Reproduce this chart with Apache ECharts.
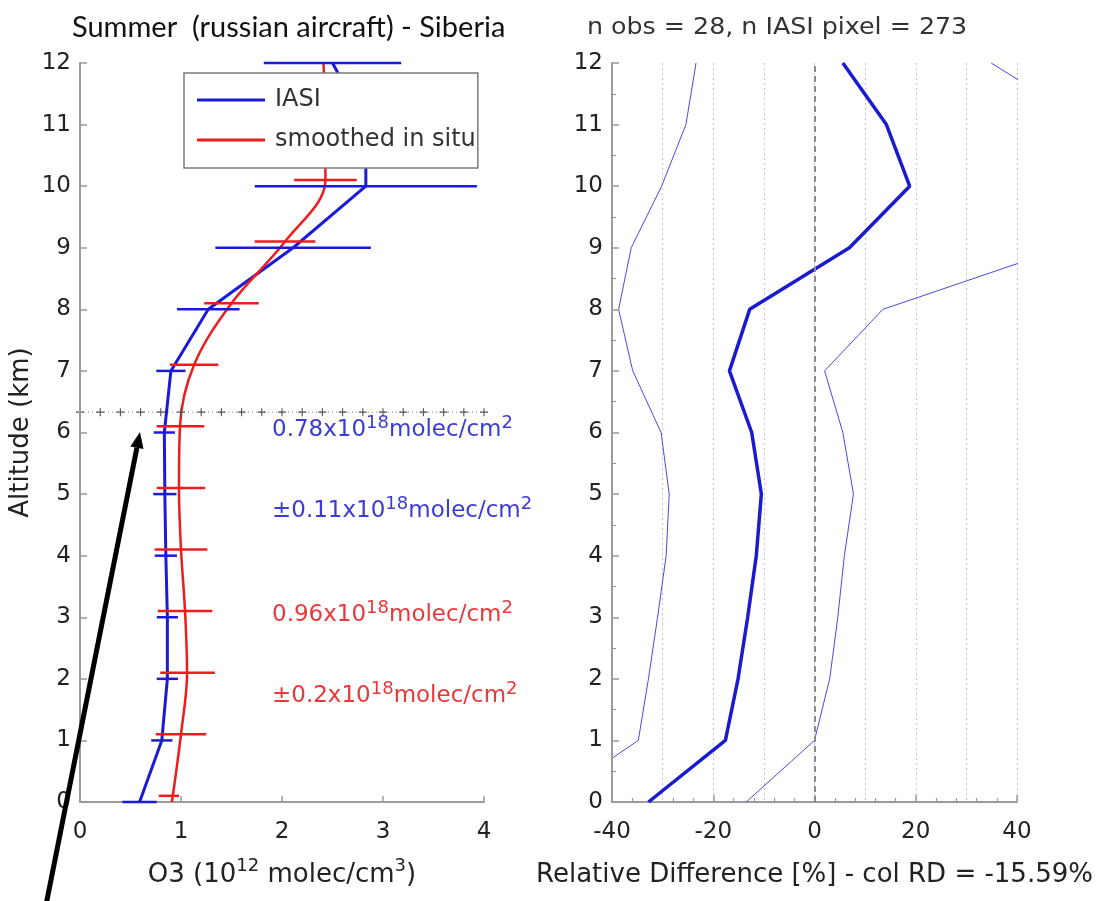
<!DOCTYPE html>
<html lang="en">
<head>
    <meta charset="UTF-8">
    <title>IASI vs in situ O3 - Siberia</title>
    <script src="https://cdn.jsdelivr.net/npm/echarts@6/dist/echarts.min.js"></script>
    <style>
        html, body { margin: 0; padding: 0; background: #fff; }
        #main { width: 1105px; height: 901px; }
    </style>
</head>
<body>
    <div id="main"></div>
    <script>
        // ---- data ----
        var altitudes = [0, 1, 2, 3, 4, 5, 6, 7, 8, 9, 10, 11, 12];

        // IASI profile (left panel), 10^12 molec/cm3
        var iasiO3 = [0.59, 0.81, 0.865, 0.865, 0.85, 0.84, 0.835, 0.9, 1.27, 2.11, 2.83, 2.83, 2.50];
        var iasiErr = [0.17, 0.105, 0.105, 0.105, 0.11, 0.115, 0.105, 0.145, 0.31, 0.77, 1.1, 0.75, 0.68];

        // smoothed in situ profile
        var insituAlt = [0, 1.1, 2.1, 3.1, 4.1, 5.1, 6.1, 7.1, 8.1, 9.1, 10.1, 11.1, 12];
        var insituO3 = [0.91, 1.0, 1.06, 1.04, 1.0, 0.98, 0.99, 1.13, 1.5, 2.03, 2.43, 2.43, 2.41];
        var insituBarAlt = [0.1, 1.1, 2.1, 3.1, 4.1, 5.1, 6.1, 7.1, 8.1, 9.1, 10.1, 11.1];
        var insituBarO3 = [0.88, 1.0, 1.065, 1.04, 1.0, 1.0, 0.995, 1.13, 1.5, 2.03, 2.43, 2.43];
        var insituErr = [0.1, 0.25, 0.27, 0.27, 0.26, 0.24, 0.235, 0.24, 0.27, 0.3, 0.31, 0.3];

        // tropopause marker row
        var tropoAlt = 6.33;
        var tropoX = [0, 0.2, 0.4, 0.6, 0.8, 1.0, 1.2, 1.4, 1.6, 1.8, 2.0, 2.2, 2.4, 2.6, 2.8, 3.0, 3.2, 3.4, 3.6, 3.8, 4.0];

        // relative difference (right panel), %
        var rdMean = [-32.8, -17.6, -15.1, -13.2, -11.5, -10.5, -12.4, -16.8, -12.8, 6.9, 18.8, 14.2, 5.6];
        var rdLow = [-52.7, -34.8, -32.8, -31.0, -29.3, -28.7, -30.3, -35.9, -38.7, -36.2, -30.2, -25.4, -23.4];
        var rdHigh = [-13.5, 0.0, 3.0, 4.6, 5.9, 7.7, 5.6, 2.0, 13.5, 49.3, 58.0, 54.5, 34.9];

        var leftTitle = 'Summer  (russian aircraft) - Siberia';
        var rightTitle = 'n obs = 28, n IASI pixel = 273';
        var iasiCol = ['0.78x10{sup|18}molec/cm{sup|2}', '\u00b10.11x10{sup|18}molec/cm{sup|2}'];
        var insituCol = ['0.96x10{sup|18}molec/cm{sup|2}', '\u00b10.2x10{sup|18}molec/cm{sup|2}'];

        // ---- chart ----
        var F = 'DejaVu Sans';
        var blue = '#1a1ad8';
        var red = '#ee1c1c';
        var axisGray = '#9a9a9a';
        var myChart = echarts.init(document.getElementById('main'));

        function pairs(xs, ys) {
            var out = [];
            for (var i = 0; i < xs.length; i++) out.push([xs[i], ys[i]]);
            return out;
        }

        function errorBars(alt, mid, err, color) {
            var data = [];
            for (var i = 0; i < alt.length; i++) {
                data.push([mid[i] - err[i], mid[i] + err[i], alt[i]]);
            }
            return {
                type: 'custom',
                xAxisIndex: 0,
                yAxisIndex: 0,
                silent: true,
                z: 3,
                encode: { x: [0, 1], y: 2 },
                renderItem: function (params, api) {
                    var a = api.coord([api.value(0), api.value(2)]);
                    var b = api.coord([api.value(1), api.value(2)]);
                    return {
                        type: 'line',
                        shape: { x1: a[0], y1: a[1], x2: b[0], y2: b[1] },
                        style: { stroke: color, lineWidth: 2.5 }
                    };
                },
                data: data
            };
        }

        var supStyle = { fontSize: 18, fontFamily: F, verticalAlign: 'top', lineHeight: 18 };

        function annot(x, y, text, color) {
            return {
                type: 'text', x: x, y: y, z: 10,
                style: {
                    text: text, fill: color, fontSize: 23, fontFamily: F, lineHeight: 32,
                    verticalAlign: 'middle',
                    rich: { sup: { fontSize: 18, fontFamily: F, fill: color, verticalAlign: 'top', lineHeight: 18 } }
                }
            };
        }

        function yAxisFor(grid, extra) {
            var ax = {
                gridIndex: grid, type: 'value', min: 0, max: 12, interval: 1, position: 'left', z: 5,
                axisLine: { show: true, onZero: false, lineStyle: { color: axisGray, width: 2 } },
                axisTick: { show: true, inside: true, length: 7, lineStyle: { color: axisGray, width: 1.5 } },
                axisLabel: { fontFamily: F, fontSize: 23, color: '#222', margin: 9 },
                splitLine: { show: false }
            };
            return Object.assign(ax, extra);
        }

        var option = {
            animation: false,
            backgroundColor: '#fff',
            grid: [
                { left: 80, top: 63, width: 404, height: 739 },
                { left: 612, top: 63, width: 405, height: 739 }
            ],
            legend: {
                data: [{ name: 'IASI', icon: 'rect' }, { name: 'smoothed in situ', icon: 'rect' }],
                orient: 'vertical',
                left: 184, top: 73,
                itemWidth: 68, itemHeight: 3, itemGap: 16,
                padding: [15, 2, 16, 13],
                backgroundColor: '#fff',
                borderColor: '#7a7a7a', borderWidth: 1.5,
                selectedMode: false,
                textStyle: { fontFamily: F, fontSize: 24, color: '#333', padding: [0, 0, 0, 5] }
            },
            xAxis: [{
                gridIndex: 0, type: 'value', min: 0, max: 4, interval: 1,
                name: 'O3 (10{sup|12} molec/cm{sup|3})',
                nameLocation: 'middle', nameGap: 55,
                nameTextStyle: {
                    fontFamily: F, fontSize: 26, color: '#222', lineHeight: 36,
                    rich: { sup: supStyle }
                },
                axisLine: { onZero: false, lineStyle: { color: axisGray, width: 2 } },
                axisTick: { inside: true, length: 6, lineStyle: { color: axisGray, width: 1.5 } },
                axisLabel: { fontFamily: F, fontSize: 23, color: '#222', margin: 19 },
                splitLine: { show: false }
            }, {
                gridIndex: 1, type: 'value', min: -40, max: 40, interval: 20, position: 'bottom',
                name: 'Relative Difference [%] - col RD = -15.59%',
                nameLocation: 'middle', nameGap: 55,
                nameTextStyle: { fontFamily: F, fontSize: 26, color: '#222', lineHeight: 36 },
                axisLine: { onZero: false, lineStyle: { color: axisGray, width: 2 } },
                axisTick: { inside: true, length: 7, lineStyle: { color: axisGray, width: 1.5 } },
                minorTick: { show: true, splitNumber: 5, length: 4, lineStyle: { color: axisGray, width: 1.2 } },
                axisLabel: { fontFamily: F, fontSize: 23, color: '#222', margin: 19 },
                splitLine: { show: false }
            }, {
                // dotted grid every 10 %
                gridIndex: 1, type: 'value', min: -40, max: 40, interval: 10, position: 'bottom',
                axisLine: { show: false, onZero: false }, axisTick: { show: false }, axisLabel: { show: false },
                splitLine: { show: true, lineStyle: { color: '#c4c4c4', type: [2, 3], width: 1 } }
            }],
            yAxis: [
                yAxisFor(0, { name: 'Altitude (km)', nameLocation: 'middle', nameGap: 46,
                    nameTextStyle: { fontFamily: F, fontSize: 26, color: '#222' } }),
                yAxisFor(1, {
                    minorTick: { show: true, splitNumber: 2, length: 4, lineStyle: { color: axisGray, width: 1.2 } } })
            ],
            series: [{
                name: 'IASI', type: 'line', xAxisIndex: 0, yAxisIndex: 0,
                color: blue, symbol: 'none', z: 2,
                lineStyle: { color: blue, width: 3 },
                data: pairs(iasiO3, altitudes)
            }, {
                name: 'smoothed in situ', type: 'line', xAxisIndex: 0, yAxisIndex: 0,
                color: red, symbol: 'none', smooth: 0.35, z: 2,
                lineStyle: { color: red, width: 2.5 },
                data: pairs(insituO3, insituAlt)
            },
            errorBars(altitudes, iasiO3, iasiErr, blue),
            errorBars(insituBarAlt, insituBarO3, insituErr, red),
            {
                name: 'tropopause', type: 'line', xAxisIndex: 0, yAxisIndex: 0,
                symbol: 'path://M-0.14,-1H0.14V-0.14H1V0.14H0.14V1H-0.14V0.14H-1V-0.14H-0.14Z',
                symbolSize: 8, showSymbol: true,
                itemStyle: { color: '#555' },
                lineStyle: { color: '#888', width: 1, type: [1, 3] },
                data: tropoX.map(function (x) { return [x, tropoAlt]; }),
                z: 4
            }, {
                name: 'rd low', type: 'line', xAxisIndex: 1, yAxisIndex: 1,
                symbol: 'none', lineStyle: { color: '#4a4ae0', width: 1 },
                data: pairs(rdLow, altitudes)
            }, {
                name: 'rd high', type: 'line', xAxisIndex: 1, yAxisIndex: 1,
                symbol: 'none', lineStyle: { color: '#4a4ae0', width: 1 },
                data: pairs(rdHigh, altitudes)
            }, {
                name: 'rd mean', type: 'line', xAxisIndex: 1, yAxisIndex: 1,
                symbol: 'none', z: 3, lineStyle: { color: '#1a1ad0', width: 3.5 },
                data: pairs(rdMean, altitudes),
                markLine: {
                    silent: true, symbol: 'none', label: { show: false },
                    lineStyle: { color: '#8a8a8a', type: [6, 4], width: 2 },
                    data: [{ xAxis: 0 }]
                }
            }],
            graphic: [
                { type: 'text', x: 72, y: 28, style: { text: leftTitle, fontFamily: 'Lato', fontSize: 29, fill: '#111', verticalAlign: 'middle' } },
                { type: 'text', x: 587, y: 28, scaleX: 1.1, style: { text: rightTitle, fontFamily: F, fontSize: 23, fill: '#333', verticalAlign: 'middle' } },
                annot(272, 430, iasiCol[0], '#3b3bd6'),
                annot(272, 511, iasiCol[1], '#3b3bd6'),
                annot(272, 615, insituCol[0], '#e8383a'),
                annot(272, 696, insituCol[1], '#e8383a'),
                // black arrow pointing at the tropopause
                { type: 'line', z: 20, shape: { x1: 46, y1: 905, x2: 136.9, y2: 447.7 }, style: { stroke: '#000', lineWidth: 5 } },
                { type: 'polygon', z: 20, shape: { points: [[140, 432], [143.5, 449], [130.3, 446.4]] }, style: { fill: '#000' } }
            ]
        };

        myChart.setOption(option);
        window.onresize = function () {
            myChart.resize();
        };
    </script>
</body>
</html>
